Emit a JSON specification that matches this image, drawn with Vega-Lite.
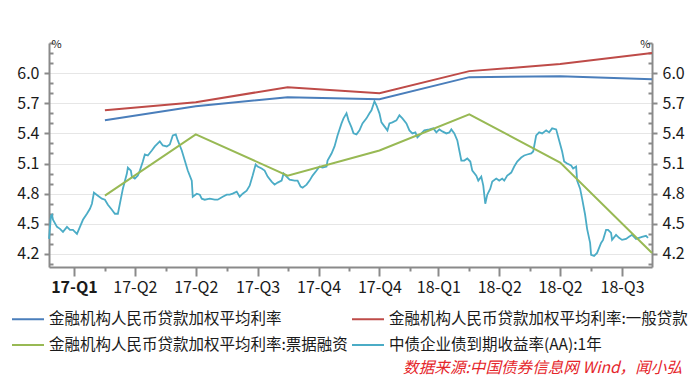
{
  "$schema": "https://vega.github.io/schema/vega-lite/v6.json",
  "width": 603,
  "height": 224,
  "autosize": "none",
  "padding": {"left": 49, "top": 43, "right": 48, "bottom": 116},
  "background": "white",
  "config": {
    "font": "Noto Sans CJK SC",
    "view": {"stroke": null}
  },
  "title": {
    "text": "数据来源:中国债券信息网 Wind，闻小弘",
    "orient": "bottom",
    "anchor": "end",
    "frame": "group",
    "dx": 30,
    "color": "#e5262b",
    "font": "Noto Sans CJK SC",
    "fontSize": 15.6,
    "fontStyle": "italic",
    "fontWeight": "normal",
    "offset": 7
  },
  "datasets": {
    "q": [
      {"d": "2017-03-31", "s": "金融机构人民币贷款加权平均利率", "v": 5.53},
      {"d": "2017-06-30", "s": "金融机构人民币贷款加权平均利率", "v": 5.67},
      {"d": "2017-09-30", "s": "金融机构人民币贷款加权平均利率", "v": 5.76},
      {"d": "2017-12-31", "s": "金融机构人民币贷款加权平均利率", "v": 5.74},
      {"d": "2018-03-31", "s": "金融机构人民币贷款加权平均利率", "v": 5.96},
      {"d": "2018-06-30", "s": "金融机构人民币贷款加权平均利率", "v": 5.97},
      {"d": "2018-09-30", "s": "金融机构人民币贷款加权平均利率", "v": 5.94},
      {"d": "2017-03-31", "s": "金融机构人民币贷款加权平均利率:一般贷款", "v": 5.63},
      {"d": "2017-06-30", "s": "金融机构人民币贷款加权平均利率:一般贷款", "v": 5.71},
      {"d": "2017-09-30", "s": "金融机构人民币贷款加权平均利率:一般贷款", "v": 5.86},
      {"d": "2017-12-31", "s": "金融机构人民币贷款加权平均利率:一般贷款", "v": 5.80},
      {"d": "2018-03-31", "s": "金融机构人民币贷款加权平均利率:一般贷款", "v": 6.02},
      {"d": "2018-06-30", "s": "金融机构人民币贷款加权平均利率:一般贷款", "v": 6.09},
      {"d": "2018-09-30", "s": "金融机构人民币贷款加权平均利率:一般贷款", "v": 6.20},
      {"d": "2017-03-31", "s": "金融机构人民币贷款加权平均利率:票据融资", "v": 4.78},
      {"d": "2017-06-30", "s": "金融机构人民币贷款加权平均利率:票据融资", "v": 5.39},
      {"d": "2017-09-30", "s": "金融机构人民币贷款加权平均利率:票据融资", "v": 4.98},
      {"d": "2017-12-31", "s": "金融机构人民币贷款加权平均利率:票据融资", "v": 5.23},
      {"d": "2018-03-31", "s": "金融机构人民币贷款加权平均利率:票据融资", "v": 5.59},
      {"d": "2018-06-30", "s": "金融机构人民币贷款加权平均利率:票据融资", "v": 5.11},
      {"d": "2018-09-30", "s": "金融机构人民币贷款加权平均利率:票据融资", "v": 4.21}
    ],
    "c": [
      {"d": "2017-02-03", "v": 4.35}, {"d": "2017-02-05", "v": 4.58}, {"d": "2017-02-06", "v": 4.59},
      {"d": "2017-02-07", "v": 4.54}, {"d": "2017-02-11", "v": 4.47}, {"d": "2017-02-14", "v": 4.45},
      {"d": "2017-02-17", "v": 4.42}, {"d": "2017-02-21", "v": 4.47}, {"d": "2017-02-24", "v": 4.44},
      {"d": "2017-02-27", "v": 4.44}, {"d": "2017-03-03", "v": 4.40}, {"d": "2017-03-06", "v": 4.47},
      {"d": "2017-03-09", "v": 4.54}, {"d": "2017-03-13", "v": 4.60}, {"d": "2017-03-16", "v": 4.65},
      {"d": "2017-03-18", "v": 4.70}, {"d": "2017-03-20", "v": 4.81}, {"d": "2017-03-24", "v": 4.78},
      {"d": "2017-03-28", "v": 4.75}, {"d": "2017-03-31", "v": 4.74}, {"d": "2017-04-03", "v": 4.69},
      {"d": "2017-04-07", "v": 4.64}, {"d": "2017-04-10", "v": 4.60}, {"d": "2017-04-13", "v": 4.60},
      {"d": "2017-04-15", "v": 4.70}, {"d": "2017-04-18", "v": 4.85}, {"d": "2017-04-22", "v": 5.00},
      {"d": "2017-04-23", "v": 5.06}, {"d": "2017-04-26", "v": 5.03}, {"d": "2017-04-27", "v": 4.97},
      {"d": "2017-04-30", "v": 4.95}, {"d": "2017-05-03", "v": 4.98}, {"d": "2017-05-05", "v": 5.03},
      {"d": "2017-05-08", "v": 5.12}, {"d": "2017-05-10", "v": 5.19}, {"d": "2017-05-13", "v": 5.18},
      {"d": "2017-05-17", "v": 5.23}, {"d": "2017-05-20", "v": 5.27}, {"d": "2017-05-25", "v": 5.32},
      {"d": "2017-05-28", "v": 5.28}, {"d": "2017-06-01", "v": 5.27}, {"d": "2017-06-04", "v": 5.29},
      {"d": "2017-06-07", "v": 5.38}, {"d": "2017-06-10", "v": 5.39}, {"d": "2017-06-12", "v": 5.33},
      {"d": "2017-06-16", "v": 5.23}, {"d": "2017-06-19", "v": 5.13}, {"d": "2017-06-22", "v": 5.03},
      {"d": "2017-06-26", "v": 4.93}, {"d": "2017-06-27", "v": 4.77}, {"d": "2017-07-01", "v": 4.80},
      {"d": "2017-07-04", "v": 4.79}, {"d": "2017-07-06", "v": 4.75}, {"d": "2017-07-09", "v": 4.74},
      {"d": "2017-07-14", "v": 4.75}, {"d": "2017-07-19", "v": 4.74}, {"d": "2017-07-22", "v": 4.74},
      {"d": "2017-07-27", "v": 4.77}, {"d": "2017-07-31", "v": 4.79}, {"d": "2017-08-03", "v": 4.79},
      {"d": "2017-08-06", "v": 4.80}, {"d": "2017-08-10", "v": 4.82}, {"d": "2017-08-13", "v": 4.77},
      {"d": "2017-08-16", "v": 4.80}, {"d": "2017-08-20", "v": 4.83}, {"d": "2017-08-23", "v": 4.88},
      {"d": "2017-08-26", "v": 4.98}, {"d": "2017-08-29", "v": 5.09}, {"d": "2017-08-31", "v": 5.07},
      {"d": "2017-09-04", "v": 5.05}, {"d": "2017-09-07", "v": 5.03}, {"d": "2017-09-10", "v": 4.97},
      {"d": "2017-09-14", "v": 4.92}, {"d": "2017-09-17", "v": 4.89}, {"d": "2017-09-20", "v": 4.91},
      {"d": "2017-09-24", "v": 4.93}, {"d": "2017-09-26", "v": 5.00}, {"d": "2017-09-29", "v": 4.97},
      {"d": "2017-10-02", "v": 4.94}, {"d": "2017-10-07", "v": 4.93}, {"d": "2017-10-10", "v": 4.93},
      {"d": "2017-10-13", "v": 4.87}, {"d": "2017-10-15", "v": 4.86}, {"d": "2017-10-19", "v": 4.89},
      {"d": "2017-10-22", "v": 4.93}, {"d": "2017-10-25", "v": 4.98}, {"d": "2017-10-29", "v": 5.03},
      {"d": "2017-11-01", "v": 5.07}, {"d": "2017-11-04", "v": 5.06}, {"d": "2017-11-08", "v": 5.07},
      {"d": "2017-11-09", "v": 5.13}, {"d": "2017-11-13", "v": 5.20}, {"d": "2017-11-16", "v": 5.27},
      {"d": "2017-11-19", "v": 5.38}, {"d": "2017-11-23", "v": 5.50}, {"d": "2017-11-25", "v": 5.55},
      {"d": "2017-11-28", "v": 5.60}, {"d": "2017-11-30", "v": 5.53}, {"d": "2017-12-03", "v": 5.46},
      {"d": "2017-12-05", "v": 5.40}, {"d": "2017-12-08", "v": 5.39}, {"d": "2017-12-11", "v": 5.43},
      {"d": "2017-12-14", "v": 5.50}, {"d": "2017-12-18", "v": 5.55}, {"d": "2017-12-21", "v": 5.60},
      {"d": "2017-12-23", "v": 5.63}, {"d": "2017-12-26", "v": 5.72}, {"d": "2017-12-28", "v": 5.68},
      {"d": "2017-12-31", "v": 5.60}, {"d": "2018-01-02", "v": 5.51}, {"d": "2018-01-05", "v": 5.47},
      {"d": "2018-01-08", "v": 5.43}, {"d": "2018-01-10", "v": 5.50}, {"d": "2018-01-13", "v": 5.51},
      {"d": "2018-01-17", "v": 5.53}, {"d": "2018-01-20", "v": 5.58}, {"d": "2018-01-23", "v": 5.55},
      {"d": "2018-01-27", "v": 5.50}, {"d": "2018-01-30", "v": 5.43}, {"d": "2018-02-02", "v": 5.40},
      {"d": "2018-02-05", "v": 5.41}, {"d": "2018-02-07", "v": 5.36}, {"d": "2018-02-11", "v": 5.40},
      {"d": "2018-02-14", "v": 5.43}, {"d": "2018-02-19", "v": 5.44}, {"d": "2018-02-23", "v": 5.45},
      {"d": "2018-02-26", "v": 5.41}, {"d": "2018-03-01", "v": 5.44}, {"d": "2018-03-04", "v": 5.42},
      {"d": "2018-03-08", "v": 5.40}, {"d": "2018-03-11", "v": 5.41}, {"d": "2018-03-13", "v": 5.44},
      {"d": "2018-03-16", "v": 5.40}, {"d": "2018-03-19", "v": 5.33}, {"d": "2018-03-21", "v": 5.23},
      {"d": "2018-03-23", "v": 5.13}, {"d": "2018-03-26", "v": 5.13}, {"d": "2018-03-29", "v": 5.15},
      {"d": "2018-04-01", "v": 5.12}, {"d": "2018-04-03", "v": 5.03}, {"d": "2018-04-07", "v": 4.98},
      {"d": "2018-04-09", "v": 4.93}, {"d": "2018-04-12", "v": 4.97}, {"d": "2018-04-14", "v": 4.88},
      {"d": "2018-04-16", "v": 4.70}, {"d": "2018-04-18", "v": 4.79}, {"d": "2018-04-21", "v": 4.85},
      {"d": "2018-04-23", "v": 4.92}, {"d": "2018-04-27", "v": 4.95}, {"d": "2018-04-30", "v": 4.93},
      {"d": "2018-05-03", "v": 4.95}, {"d": "2018-05-05", "v": 4.93}, {"d": "2018-05-08", "v": 4.98},
      {"d": "2018-05-12", "v": 5.01}, {"d": "2018-05-15", "v": 5.07}, {"d": "2018-05-18", "v": 5.12},
      {"d": "2018-05-22", "v": 5.16}, {"d": "2018-05-25", "v": 5.18}, {"d": "2018-05-28", "v": 5.19},
      {"d": "2018-06-01", "v": 5.20}, {"d": "2018-06-03", "v": 5.22}, {"d": "2018-06-06", "v": 5.38},
      {"d": "2018-06-09", "v": 5.41}, {"d": "2018-06-12", "v": 5.40}, {"d": "2018-06-16", "v": 5.43},
      {"d": "2018-06-19", "v": 5.41}, {"d": "2018-06-22", "v": 5.45}, {"d": "2018-06-26", "v": 5.44},
      {"d": "2018-06-29", "v": 5.33}, {"d": "2018-07-02", "v": 5.22}, {"d": "2018-07-04", "v": 5.12},
      {"d": "2018-07-07", "v": 5.10}, {"d": "2018-07-11", "v": 5.08}, {"d": "2018-07-13", "v": 5.05},
      {"d": "2018-07-16", "v": 5.07}, {"d": "2018-07-17", "v": 4.93}, {"d": "2018-07-20", "v": 4.85},
      {"d": "2018-07-22", "v": 4.75}, {"d": "2018-07-25", "v": 4.59}, {"d": "2018-07-27", "v": 4.45},
      {"d": "2018-07-30", "v": 4.31}, {"d": "2018-07-31", "v": 4.19}, {"d": "2018-08-03", "v": 4.18},
      {"d": "2018-08-06", "v": 4.21}, {"d": "2018-08-08", "v": 4.26}, {"d": "2018-08-10", "v": 4.31},
      {"d": "2018-08-12", "v": 4.34}, {"d": "2018-08-15", "v": 4.44}, {"d": "2018-08-17", "v": 4.44},
      {"d": "2018-08-20", "v": 4.41}, {"d": "2018-08-21", "v": 4.34}, {"d": "2018-08-25", "v": 4.39},
      {"d": "2018-08-28", "v": 4.36}, {"d": "2018-08-31", "v": 4.34}, {"d": "2018-09-04", "v": 4.35},
      {"d": "2018-09-07", "v": 4.37}, {"d": "2018-09-10", "v": 4.39}, {"d": "2018-09-14", "v": 4.35},
      {"d": "2018-09-17", "v": 4.36}, {"d": "2018-09-20", "v": 4.37}, {"d": "2018-09-24", "v": 4.38},
      {"d": "2018-09-26", "v": 4.36}
    ]
  },
  "layer": [
    {
      "data": {"name": "c"},
      "mark": {"type": "line", "strokeWidth": 1.8},
      "encoding": {
        "x": {
          "field": "d",
          "type": "temporal",
          "scale": {
            "type": "utc",
            "domain": [
              {"year": 2017, "month": 2, "date": 3, "utc": true},
              {"year": 2018, "month": 9, "date": 30, "utc": true}
            ]
          },
          "axis": {
            "title": null,
            "grid": false,
            "values": [
              {"year": 2017, "month": 2, "date": 28, "utc": true},
              {"year": 2017, "month": 3, "date": 31, "utc": true},
              {"year": 2017, "month": 4, "date": 30, "utc": true},
              {"year": 2017, "month": 5, "date": 31, "utc": true},
              {"year": 2017, "month": 6, "date": 30, "utc": true},
              {"year": 2017, "month": 7, "date": 31, "utc": true},
              {"year": 2017, "month": 8, "date": 31, "utc": true},
              {"year": 2017, "month": 9, "date": 30, "utc": true},
              {"year": 2017, "month": 10, "date": 31, "utc": true},
              {"year": 2017, "month": 11, "date": 30, "utc": true},
              {"year": 2017, "month": 12, "date": 31, "utc": true},
              {"year": 2018, "month": 1, "date": 31, "utc": true},
              {"year": 2018, "month": 2, "date": 28, "utc": true},
              {"year": 2018, "month": 3, "date": 31, "utc": true},
              {"year": 2018, "month": 4, "date": 30, "utc": true},
              {"year": 2018, "month": 5, "date": 31, "utc": true},
              {"year": 2018, "month": 6, "date": 30, "utc": true},
              {"year": 2018, "month": 7, "date": 31, "utc": true},
              {"year": 2018, "month": 8, "date": 31, "utc": true}
            ],
            "labelExpr": "utcmonth(datum.value) % 2 == 1 ? utcFormat(datum.value, '%y-Q%q') : ''",
            "labelFontWeight": {"condition": {"test": "utcyear(datum.value) == 2017 && utcmonth(datum.value) == 1", "value": "bold"}, "value": "normal"},
            "tickSize": {"condition": {"test": "utcmonth(datum.value) % 2 == 1", "value": 9}, "value": 4},
            "labelFontSize": 16,
            "labelColor": "#1a1a1a",
            "labelPadding": 3,
            "labelFlush": false,
            "labelOverlap": false,
            "domainColor": "#8a8a8a",
            "domainWidth": 2,
            "tickColor": "#8a8a8a",
            "tickWidth": 2
          }
        },
        "y": {
          "field": "v",
          "type": "quantitative",
          "scale": {"domain": [4.07, 6.3], "nice": false, "zero": false},
          "axis": {
            "orient": "left",
            "title": "%",
            "titleAngle": 0,
            "titleX": 2,
            "titleY": 1,
            "titleAlign": "left",
            "titleBaseline": "middle",
            "titleFontSize": 11,
            "titleFontWeight": "normal",
            "titleColor": "#1a1a1a",
            "values": [4.1, 4.2, 4.3, 4.4, 4.5, 4.6, 4.7, 4.8, 4.9, 5.0, 5.1, 5.2, 5.3, 5.4, 5.5, 5.6, 5.7, 5.8, 5.9, 6.0, 6.1, 6.2, 6.3],
            "labelExpr": "indexof([4.2,4.5,4.8,5.1,5.4,5.7,6.0], datum.value) >= 0 ? format(datum.value, '.1f') : ''",
            "tickSize": {"condition": {"test": "indexof([4.2,4.5,4.8,5.1,5.4,5.7,6.0], datum.value) >= 0", "value": 5}, "value": -4},
            "grid": true,
            "gridColor": "#e6e6e6",
            "gridWidth": 1,
            "gridOpacity": {"condition": {"test": "indexof([4.2,4.5,4.8,5.1,5.4,5.7,6.0], datum.value) >= 0", "value": 1}, "value": 0},
            "labelFontSize": 16,
            "labelColor": "#1a1a1a",
            "labelPadding": 5,
            "labelOverlap": false,
            "labelFlush": false,
            "domainColor": "#8a8a8a",
            "domainWidth": 2,
            "tickColor": "#8a8a8a",
            "tickWidth": 2
          }
        },
        "color": {
          "datum": "中债企业债到期收益率(AA):1年",
          "type": "nominal",
          "title": null,
          "scale": {
            "domain": [
              "金融机构人民币贷款加权平均利率",
              "金融机构人民币贷款加权平均利率:一般贷款",
              "金融机构人民币贷款加权平均利率:票据融资",
              "中债企业债到期收益率(AA):1年"
            ],
            "range": ["#4a7ebb", "#be4b48", "#98b954", "#4bacc6"]
          },
          "legend": {
            "title": null,
            "orient": "none",
            "legendX": -38,
            "legendY": 259,
            "columns": 2,
            "direction": "horizontal",
            "symbolType": "stroke",
            "symbolSize": 1024,
            "symbolStrokeWidth": 2,
            "labelFont": "Noto Sans CJK SC",
            "labelFontSize": 15.5,
            "labelColor": "#1a1a1a",
            "labelOffset": 4,
            "labelLimit": 500,
            "rowPadding": -10,
            "columnPadding": 0,
            "padding": 0,
            "offset": 0
          }
        }
      }
    },
    {
      "data": {"name": "q"},
      "mark": {"type": "line", "strokeWidth": 2},
      "encoding": {
        "x": {"field": "d", "type": "temporal", "axis": null},
        "y": {
          "field": "v",
          "type": "quantitative",
          "axis": {
            "orient": "right",
            "title": "%",
            "titleAngle": 0,
            "titleX": -2,
            "titleY": 1,
            "titleAlign": "right",
            "titleBaseline": "middle",
            "titleFontSize": 11,
            "titleFontWeight": "normal",
            "titleColor": "#1a1a1a",
            "values": [4.1, 4.2, 4.3, 4.4, 4.5, 4.6, 4.7, 4.8, 4.9, 5.0, 5.1, 5.2, 5.3, 5.4, 5.5, 5.6, 5.7, 5.8, 5.9, 6.0, 6.1, 6.2, 6.3],
            "labelExpr": "indexof([4.2,4.5,4.8,5.1,5.4,5.7,6.0], datum.value) >= 0 ? format(datum.value, '.1f') : ''",
            "tickSize": {"condition": {"test": "indexof([4.2,4.5,4.8,5.1,5.4,5.7,6.0], datum.value) >= 0", "value": 5}, "value": -4},
            "grid": false,
            "labelFontSize": 16,
            "labelColor": "#1a1a1a",
            "labelPadding": 5,
            "labelOverlap": false,
            "labelFlush": false,
            "domainColor": "#8a8a8a",
            "domainWidth": 2,
            "tickColor": "#8a8a8a",
            "tickWidth": 2
          }
        },
        "color": {"field": "s", "type": "nominal", "title": null}
      }
    }
  ],
  "resolve": {"axis": {"x": "independent", "y": "independent"}}
}
